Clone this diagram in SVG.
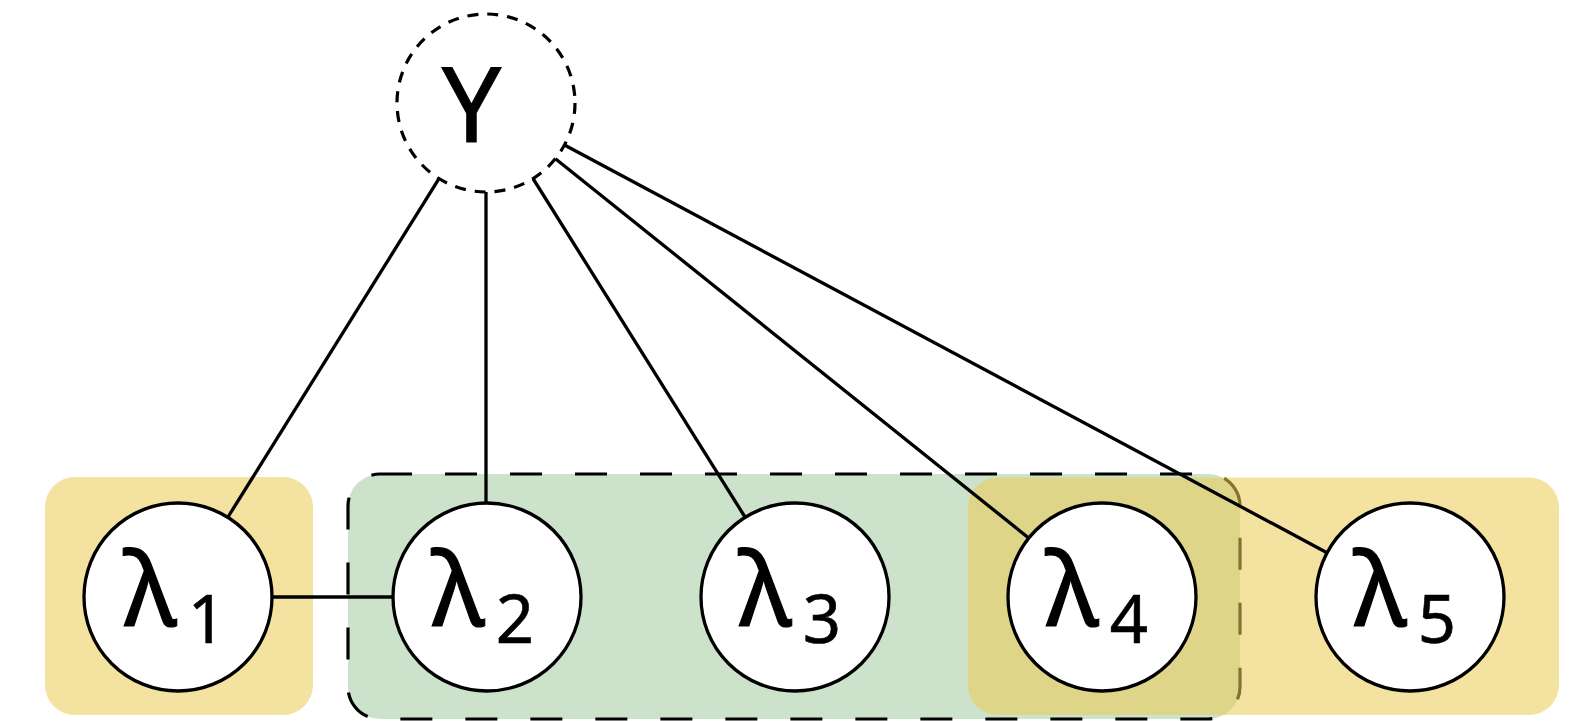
<svg xmlns="http://www.w3.org/2000/svg" width="1589" height="721" viewBox="0 0 1589 721">
<style>
.box-y{fill:#ebcb55;fill-opacity:0.56;}
.box-g{fill:#cde2cb;stroke:#000;stroke-width:3.2;stroke-dasharray:32 33;}
.node{fill:#fff;stroke:#000;stroke-width:3.3;}
.edge{stroke:#000;stroke-width:3.3;fill:none;}
.lam{font-family:"Noto Sans","Open Sans","DejaVu Sans",sans-serif;font-size:103px;text-anchor:middle;fill:#000;stroke:#000;stroke-width:1.2;}
.sub{font-family:"Noto Sans","Open Sans","DejaVu Sans",sans-serif;font-size:67px;text-anchor:middle;fill:#000;stroke:#000;stroke-width:0.6;}
</style>
<rect width="1589" height="721" fill="#fff"/>
<g id="groups">
<rect id="group-green" class="box-g" x="348" y="474" width="892" height="245" rx="32" ry="32"/>
<rect id="group-yellow-1" class="box-y" x="45" y="477" width="268" height="238" rx="30" ry="30"/>
<rect id="group-yellow-2" class="box-y" x="968" y="477.5" width="591" height="237.5" rx="30" ry="30"/>
</g>
<g id="connectors">
<line class="edge" x1="439" y1="178.6" x2="228" y2="517"/>
<line class="edge" x1="486" y1="192" x2="486" y2="503"/>
<line class="edge" x1="533" y1="178.5" x2="745" y2="517"/>
<line class="edge" x1="555.4" y1="158.7" x2="1028.7" y2="538"/>
<line class="edge" x1="564.5" y1="145" x2="1327" y2="552.7"/>
<line class="edge" x1="272" y1="597" x2="393" y2="597"/>
</g>
<g id="node-Y">
<circle cx="486" cy="103" r="89" fill="#fff" stroke="#000" stroke-width="3.2" stroke-dasharray="11 9"/>
<text x="471.5" y="142" font-family="Noto Sans, Open Sans, DejaVu Sans, sans-serif" font-size="105" text-anchor="middle" stroke="#000" stroke-width="1">Y</text>
</g>
<g id="node-l1">
<circle class="node" cx="178" cy="597" r="94"/>
<text class="lam" x="150" y="626">λ</text><text class="sub" x="207" y="643">1</text>
</g>
<g id="node-l2">
<circle class="node" cx="487" cy="597" r="94"/>
<text class="lam" x="458" y="626">λ</text><text class="sub" x="515" y="643">2</text>
</g>
<g id="node-l3">
<circle class="node" cx="795" cy="597" r="94"/>
<text class="lam" x="765" y="626">λ</text><text class="sub" x="822" y="643">3</text>
</g>
<g id="node-l4">
<circle class="node" cx="1102" cy="597" r="94"/>
<text class="lam" x="1072" y="626">λ</text><text class="sub" x="1129" y="643">4</text>
</g>
<g id="node-l5">
<circle class="node" cx="1410" cy="597" r="94"/>
<text class="lam" x="1380" y="626">λ</text><text class="sub" x="1437" y="643">5</text>
</g>
</svg>
